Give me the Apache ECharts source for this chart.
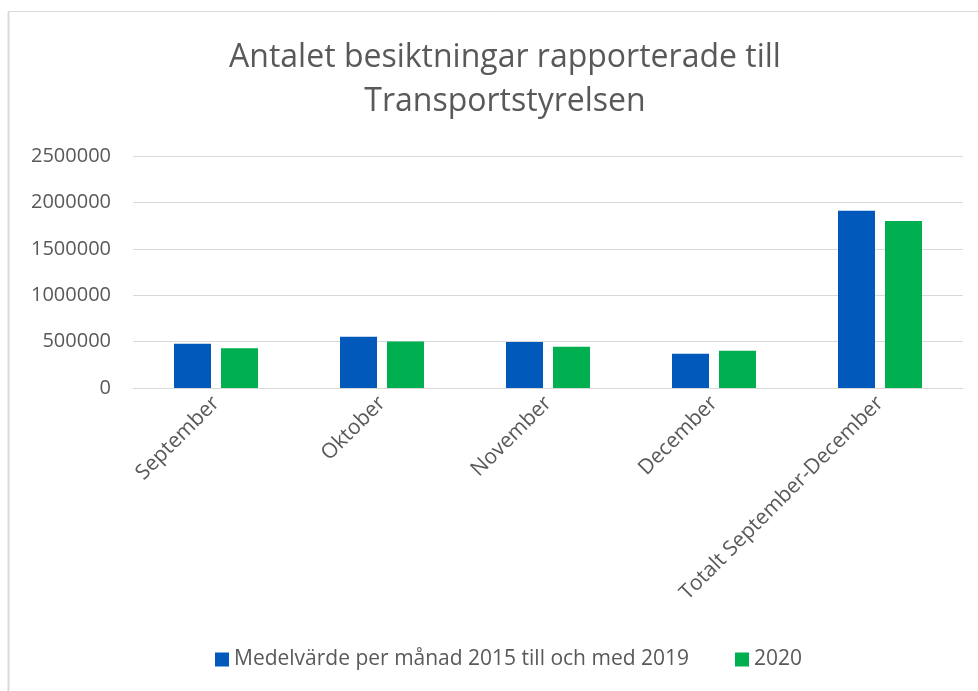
<!DOCTYPE html>
<html>
<head>
<meta charset="utf-8">
<script src="https://cdn.jsdelivr.net/npm/echarts@6/dist/echarts.min.js"></script>
<style>
html,body{margin:0;padding:0;background:#fff;}
#c{width:978px;height:691px;}
</style>
</head>
<body>
<div id="c"></div>
<script>
const categories = ['September', 'Oktober', 'November', 'December', 'Totalt September-December'];
const seriesNames = ['Medelvärde per månad 2015 till och med 2019', '2020'];
const avg2015to2019 = [477000, 553000, 496000, 370000, 1910000];
const values2020 = [427000, 502000, 445000, 402000, 1800000];
const yTicks = { min: 0, max: 2500000, interval: 500000 };

const FONT = '"Open Sans", "Liberation Sans", sans-serif';
const TXT = '#595959';
const chart = echarts.init(document.getElementById('c'), null, { renderer: 'canvas' });
chart.setOption({
  animation: false,
  backgroundColor: '#fff',
  textStyle: { fontFamily: FONT },
  title: {
    text: 'Antalet besiktningar rapporterade till\nTransportstyrelsen',
    left: 500, top: 31, textAlign: 'center',
    textStyle: { fontFamily: FONT, fontSize: 32, fontWeight: 'normal', color: TXT, lineHeight: 44 }
  },
  graphic: [
    { type: 'line', shape: { x1: 8.5, y1: 11.5, x2: 978, y2: 11.5 }, style: { stroke: '#d9d9d9', lineWidth: 1 } },
    { type: 'line', shape: { x1: 8.5, y1: 11.5, x2: 8.5, y2: 691 }, style: { stroke: '#d9d9d9', lineWidth: 2 } }
  ],
  legend: {
    bottom: 16, left: 210, itemWidth: 14, itemHeight: 14, itemGap: 46,
    icon: 'rect',
    textStyle: { fontFamily: FONT, fontSize: 21, color: TXT },
    data: seriesNames
  },
  grid: { left: 133, right: 15, top: 156, bottom: 303, containLabel: false },
  xAxis: {
    type: 'category', data: categories,
    axisLine: { lineStyle: { color: '#d9d9d9', width: 1 } },
    axisTick: { show: false },
    axisLabel: { rotate: 45, interval: 0, margin: 12, fontFamily: FONT, fontSize: 21, color: TXT }
  },
  yAxis: {
    type: 'value', min: yTicks.min, max: yTicks.max, interval: yTicks.interval,
    axisLine: { show: false }, axisTick: { show: false },
    splitLine: { lineStyle: { color: '#d9d9d9', width: 1 } },
    axisLabel: { margin: 22, fontFamily: FONT, fontSize: 20, color: TXT, formatter: v => String(v) }
  },
  series: [
    { name: seriesNames[0], type: 'bar', data: avg2015to2019, barWidth: 37, barGap: '27%', itemStyle: { color: '#0059BB' } },
    { name: seriesNames[1], type: 'bar', data: values2020, barWidth: 37, barGap: '27%', itemStyle: { color: '#00B050' } }
  ]
});
</script>
</body>
</html>
